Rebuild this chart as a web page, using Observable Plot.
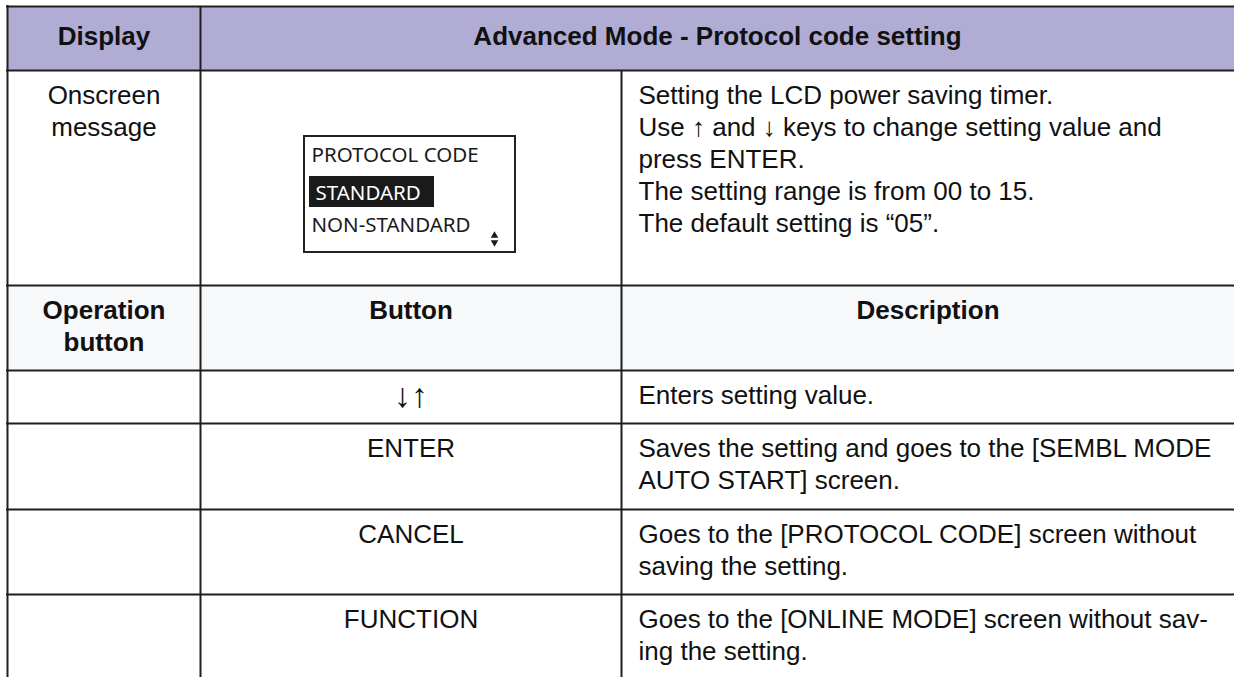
<!DOCTYPE html>
<html><head><meta charset="utf-8">
<script src="https://cdn.jsdelivr.net/npm/d3@7"></script>
<script src="https://cdn.jsdelivr.net/npm/@observablehq/plot@0.6"></script>
<style>html,body{margin:0;padding:0;background:#fff;} svg{display:block}</style>
</head><body><div id="chart"></div>
<script>
// ---- content ----
const headerLabels = ["Display", "Advanced Mode - Protocol code setting"];
const displayLabel = ["Onscreen", "message"];
const lcdTitle = "PROTOCOL CODE";
const lcdOptions = ["STANDARD", "NON-STANDARD"];
const messageLines = [
  "Setting the LCD power saving timer.",
  "Use \u2191 and \u2193 keys to change setting value and",
  "press ENTER.",
  "The setting range is from 00 to 15.",
  "The default setting is \u201C05\u201D."
];
const operationHeaders = [["Operation", "button"], ["Button"], ["Description"]];
const buttons = ["\u2193\u2191", "ENTER", "CANCEL", "FUNCTION"];
const descriptions = [
  ["Enters setting value."],
  ["Saves the setting and goes to the [SEMBL MODE", "AUTO START] screen."],
  ["Goes to the [PROTOCOL CODE] screen without", "saving the setting."],
  ["Goes to the [ONLINE MODE] screen without sav-", "ing the setting."]
];

// ---- layout ----
const W = 1234, H = 677;
const colEdges = [7, 200, 621, 1234];
const rowEdges = [6, 70, 285, 370, 423, 509, 594, 677];
const lineGap = 32, firstBaseline = 33.5, headerBaseline = 44;
const mid = (a, b) => (a + b) / 2;
const lcd = {x1: 304, x2: 515, y1: 136, y2: 252, tx: 311, hx1: 309, hx2: 434, hy1: 176, hy2: 207};
const lcdBaselines = [161, 199, 231];

const boldCenter = [], regCenter = [], regStart = [];
// header
boldCenter.push({x: mid(colEdges[0], colEdges[1]), y: headerBaseline, t: headerLabels[0]});
boldCenter.push({x: mid(colEdges[1], colEdges[3]), y: headerBaseline, t: headerLabels[1]});
// display row
displayLabel.forEach((t, i) => regCenter.push({x: mid(colEdges[0], colEdges[1]), y: rowEdges[1] + firstBaseline + i * lineGap, t, s: 26}));
messageLines.forEach((t, i) => regStart.push({x: colEdges[2] + 17, y: rowEdges[1] + firstBaseline + i * lineGap, t}));
// operation header row
operationHeaders.forEach((lines, c) => lines.forEach((t, i) =>
  boldCenter.push({x: mid(colEdges[c], colEdges[c + 1]), y: rowEdges[2] + firstBaseline + i * lineGap, t})));
// body rows
buttons.forEach((t, r) => {
  const arrows = /[\u2191\u2193]/.test(t);
  regCenter.push({x: mid(colEdges[1], colEdges[2]), y: rowEdges[3 + r] + firstBaseline + (arrows ? 3 : 0), t, s: arrows ? 34 : 26});
  descriptions[r].forEach((d, i) => regStart.push({x: colEdges[2] + 17, y: rowEdges[3 + r] + firstBaseline + i * lineGap, t: d}));
});

const lcdText = [
  {x: lcd.tx, y: lcdBaselines[0], t: lcdTitle, c: "#1a1a1a"},
  {x: lcd.hx1 + 6, y: lcdBaselines[1], t: lcdOptions[0], c: "#ffffff"},
  {x: lcd.tx, y: lcdBaselines[2], t: lcdOptions[1], c: "#1a1a1a"}
];

const bands = [
  {x1: colEdges[0], x2: W, y1: rowEdges[0], y2: rowEdges[1], f: "#b0acd4"},
  {x1: colEdges[0], x2: W, y1: rowEdges[2], y2: rowEdges[3], f: "#f7f8fa"}
];
const vlines = [
  {x: colEdges[0], y1: rowEdges[0] - 1, y2: H},
  {x: colEdges[1], y1: rowEdges[0], y2: H},
  {x: colEdges[2], y1: rowEdges[1], y2: H}
];
const hlines = rowEdges.slice(0, 7);

const font = "'Liberation Sans', Arial, Helvetica, sans-serif";
const common = {x: "x", y: "y", text: "t", lineAnchor: "bottom", fontSize: 26, fontFamily: font, fill: "#111"};

const chart = Plot.plot({
  width: W, height: H, margin: 0,
  x: {type: "linear", domain: [0, W], range: [0, W], axis: null},
  y: {type: "linear", domain: [0, H], range: [0, H], axis: null},
  marks: [
    Plot.rect(bands, {x1: "x1", x2: "x2", y1: "y1", y2: "y2", fill: "f"}),
    Plot.rect([lcd], {x1: "x1", x2: "x2", y1: "y1", y2: "y2", fill: "#fff", stroke: "#222", strokeWidth: 2}),
    Plot.rect([lcd], {x1: "hx1", x2: "hx2", y1: "hy1", y2: "hy2", fill: "#1a1a1a"}),
    Plot.dot([{x: 494, y: 235, r: 0}, {x: 494, y: 242, r: 180}], {x: "x", y: "y", rotate: "r", symbol: "triangle", r: 2.8, fill: "#1a1a1a", stroke: null}),
    Plot.ruleY(hlines, {y: d => d, x1: 6, x2: W, stroke: "#1e1e1e", strokeWidth: 2}),
    Plot.ruleX(vlines, {x: "x", y1: "y1", y2: "y2", stroke: "#1e1e1e", strokeWidth: 2}),
    Plot.text(boldCenter, {...common, fontWeight: "bold", textAnchor: "middle"}),
    Plot.text(regCenter, {...common, fontSize: "s", textAnchor: "middle"}),
    Plot.text(regStart, {...common, textAnchor: "start"}),
    Plot.text(lcdText, {x: "x", y: "y", text: "t", fill: "c", lineAnchor: "bottom", textAnchor: "start", fontSize: 20.5, fontFamily: "'Noto Sans', 'Open Sans', sans-serif"})
  ]
});
chart.style.fontFamily = font;
document.getElementById("chart").append(chart);
</script>
</body></html>
